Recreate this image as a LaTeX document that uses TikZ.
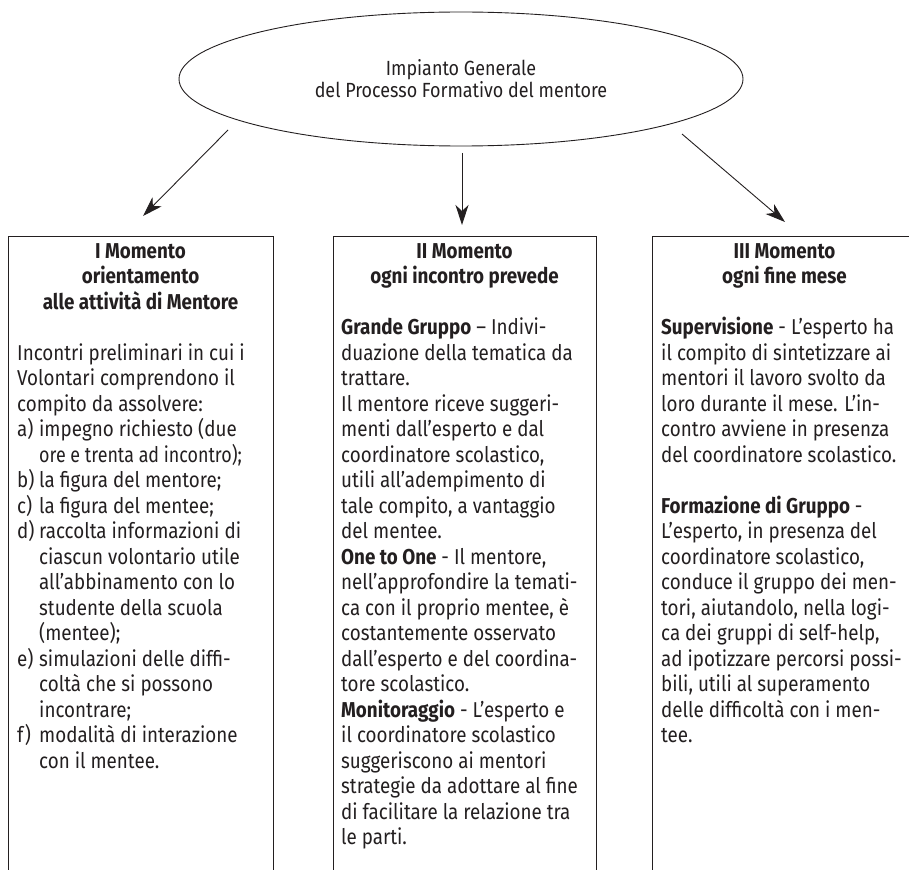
\documentclass[tikz,border=0pt]{standalone}
\usepackage{fontspec}
\usepackage{graphicx}
\setmainfont{Fira Sans}[FakeStretch=0.875]
\usetikzlibrary{shapes.geometric,arrows.meta}
\definecolor{ink}{HTML}{231F20}
\newcommand\fsz{\fontsize{21.5}{25.5}\selectfont}
\newcommand\itm[1]{\makebox[22pt][l]{#1}}
\newcommand\ind{\hspace*{22pt}}
\begin{document}
\begin{tikzpicture}[x=1pt,y=-1pt,
  every node/.style={text=ink},
  momentbox/.style={draw=ink, line width=1.1pt, rectangle, anchor=north west, inner sep=0pt, minimum width=265pt, minimum height=650pt},
  ttl/.style={anchor=north, inner sep=0pt, align=center, font=\fsz\bfseries},
  body/.style={anchor=north west, inner sep=0pt, align=left, font=\fsz},
  arr/.style={draw=ink, line width=0.9pt, -{Stealth[length=20pt,width=13pt,inset=6pt]}}
]
\useasboundingbox (0,0) rectangle (909,869);

% central ellipse
\node[ellipse, draw=ink, line width=0.9pt, minimum width=564pt, minimum height=134pt, inner sep=0pt,
      align=center, font=\fontsize{20.5}{22}\selectfont] (top) at (461,79)
      {Impianto Generale\\del Processo Formativo del mentore};

% boxes
\node[momentbox] (b1) at (8,236) {};
\node[momentbox, minimum width=263pt] (b2) at (333,236) {};
\node[momentbox] (b3) at (652,236) {};

% titles
\node[ttl] (t1) at (140.5,240) {\strut I Momento\\orientamento\\alle attività di Mentore};
\node[ttl] (t2) at (464.5,240) {\strut II Momento\\ogni incontro prevede};
\node[ttl] (t3) at (784.5,240) {\strut III Momento\\ogni fine mese};

% bodies
\node[body] (x1) at (17,342) {\strut Incontri preliminari in cui i\\
Volontari comprendono il\\
compito da assolvere:\\
\itm{a)}impegno richiesto (due\\
\ind\scalebox{0.95}[1]{ore e trenta ad incontro);}\\
\itm{b)}la figura del mentore;\\
\itm{c)}la figura del mentee;\\
\itm{d)}raccolta informazioni di\\
\ind ciascun volontario utile\\
\ind all’abbinamento con lo\\
\ind studente della scuola\\
\ind (mentee);\\
\itm{e)}simulazioni delle diffi-\\
\ind coltà che si possono\\
\ind incontrare;\\
\itm{f)}modalità di interazione\\
\ind con il mentee.};

\node[body] (x2) at (341,316.7) {\strut\textbf{Grande Gruppo} – Indivi-\\
duazione della tematica da\\
trattare.\\
Il mentore riceve suggeri-\\
menti dall’esperto e dal\\
coordinatore scolastico,\\
utili all’adempimento di\\
tale compito, a vantaggio\\
del mentee.\\
\textbf{One to One} - Il mentore,\\
nell’approfondire la temati-\\
ca con il proprio mentee, è\\
costantemente osservato\\
dall’esperto e del coordina-\\
tore scolastico.\\
\textbf{Monitoraggio} - L’esperto e\\
il coordinatore scolastico\\
suggeriscono ai mentori\\
strategie da adottare al fine\\
di facilitare la relazione tra\\
le parti.};

\node[body] (x3) at (661,316.7) {\strut\textbf{Supervisione} - L’esperto ha\\
il compito di sintetizzare ai\\
mentori il lavoro svolto da\\
loro durante il mese. L’in-\\
contro avviene in presenza\\
del coordinatore scolastico.\\
\strut\\
\textbf{Formazione di Gruppo} -\\
L’esperto, in presenza del\\
coordinatore scolastico,\\
conduce il gruppo dei men-\\
tori, aiutandolo, nella logi-\\
ca dei gruppi di self-help,\\
ad ipotizzare percorsi possi-\\
bili, utili al superamento\\
delle difficoltà con i men-\\
tee.};

% arrows
\coordinate (s1) at (228,130);
\coordinate (e1) at (143,216);
\coordinate (s2) at (462,153);
\coordinate (e2) at (462,225);
\coordinate (s3) at (682,134);
\coordinate (e3) at (785,222);
\draw[arr] (s1) -- (e1);
\draw[arr] (s2) -- (e2);
\draw[arr] (s3) -- (e3);
\end{tikzpicture}
\end{document}
